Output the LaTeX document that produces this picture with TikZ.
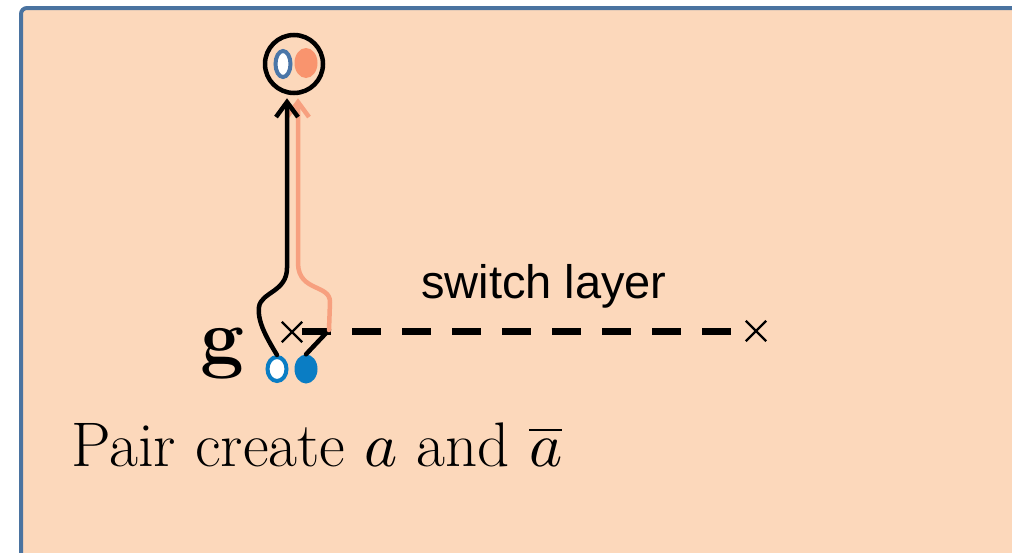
\documentclass[tikz,border=0pt]{standalone}
\usepackage{fontspec}
\newfontfamily\labelsans{Liberation Sans}
\usetikzlibrary{arrows.meta,calc,shapes.misc,shapes.geometric}
% let the math fonts scale to any size
\DeclareFontShape{OML}{cmm}{m}{it}{<->cmmi10}{}
\DeclareFontShape{OMS}{cmsy}{m}{n}{<->cmsy10}{}
\DeclareFontShape{OMX}{cmex}{m}{n}{<->cmex10}{}
\definecolor{panelbg}{HTML}{FCD8BB}
\definecolor{panelrim}{HTML}{4A73A0}
\definecolor{steel}{HTML}{4A76A8}
\definecolor{salmon}{HTML}{F9946E}
\definecolor{salmonline}{HTML}{F7A07F}
\definecolor{quark}{HTML}{0A7DC4}
\tikzset{
  openq/.style={ellipse,draw=#1,fill=white,line width=4pt,inner sep=0pt},
  fullq/.style={ellipse,fill=#1,inner sep=0pt},
  worldline/.style={line width=4.5pt,line cap=round,line join=round},
  cross/.style={cross out,draw=black,line width=2.4pt,minimum size=18pt,inner sep=0pt},
  barb/.style={-{Straight Barb[length=15pt,width=22pt,line width=4.5pt]}},
}
\begin{document}
\begin{tikzpicture}[x=1pt,y=-1pt]
\useasboundingbox (0,0) rectangle (1012,552);
% panel
\draw[panelrim,fill=panelbg,line width=4pt,rounded corners=6pt] (21,8) rectangle (1040,580);

% the pair and the merged state
\node[draw=black,circle,line width=4.5pt,minimum size=58pt,inner sep=0pt] (top) at (294,64) {};
\node[openq=steel,minimum width=15pt,minimum height=26pt] (ta) at (283,64) {};
\node[fullq=salmon,minimum width=23pt,minimum height=30pt] (tb) at (306,63) {};
\node[openq=quark,minimum width=19pt,minimum height=24pt] (qa) at (277,369) {};
\node[fullq=quark,minimum width=23pt,minimum height=29pt] (qb) at (306,369) {};

% switch layer
\node[cross] (xl) at (292,332) {};
\node[cross] (xr) at (756,331) {};
\coordinate (d0) at (302,331);
\coordinate (d1) at (732,331);
\draw[line width=7pt,dash pattern=on 29pt off 21pt] (d0) -- (d1);
\node[anchor=base west,inner sep=0pt,font=\labelsans\fontsize{47}{50}\selectfont] (sw) at (421,298) {switch layer};

% world lines
\coordinate (kink) at (329,330);
\draw[worldline] (qb.north) -- (kink);
\draw[worldline,salmonline,barb] (kink) -- (330,302) .. controls (330,284) and (299,292) .. (298,264) -- ($(top.south)+(4,3)$);
\draw[worldline,barb] (qa.north) .. controls (268,340) and (257,322) .. (259,307) .. controls (261,292) and (287,292) .. (287,268) -- ($(top.south)+(-7,3)$);

% labels
\node[anchor=base west,inner sep=0pt,font=\fontsize{78}{82}\selectfont\bfseries] (g) at (200,363) {g};
\node[anchor=base west,inner sep=0pt,font=\fontsize{63}{68}\selectfont] (cap) at (71,466) {Pair create $a$ and $\overline{a}$};
\end{tikzpicture}
\end{document}
